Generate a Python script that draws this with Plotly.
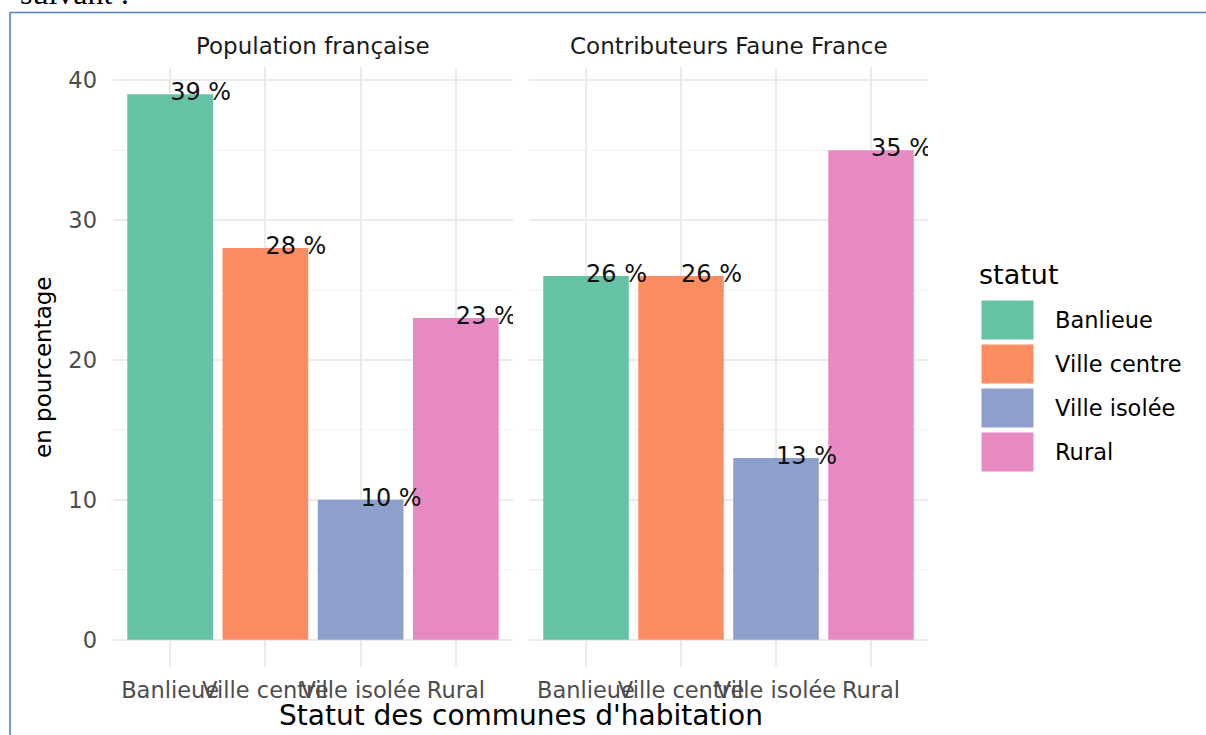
import plotly.graph_objects as go

categories = ["Banlieue", "Ville centre", "Ville isolée", "Rural"]
panels = ["Population française", "Contributeurs Faune France"]
pop_fr = [39, 28, 10, 23]
contrib_ff = [26, 26, 13, 35]
colors = ["#66C2A5", "#FC8D62", "#8DA0CB", "#E78AC3"]
y_ticks = [0, 10, 20, 30, 40]

W, H = 1206, 735
L, R, T, B = 113, 278, 67, 68
PW, PH = W - L - R, H - T - B


def px(x):
    return (x - L) / PW


def py(y):
    return (H - B - y) / PH


FONT = "DejaVu Sans"
fig = go.Figure()

series = [pop_fr, contrib_ff]
axes = [("x", "y"), ("x2", "y2")]
for vals, (xa, ya) in zip(series, axes):
    fig.add_trace(go.Bar(
        x=categories, y=vals, width=0.9,
        marker=dict(color=colors, line=dict(width=0)),
        xaxis=xa, yaxis=ya, showlegend=False, hoverinfo="skip",
    ))
    fig.add_trace(go.Scatter(
        x=categories, y=vals, mode="text",
        text=[f"{v} %" for v in vals], textposition="middle right",
        textfont=dict(family=FONT, size=24, color="#111111"),
        cliponaxis=True, xaxis=xa, yaxis=ya, showlegend=False, hoverinfo="skip",
    ))

xcommon = dict(
    type="category", range=[-0.6, 3.6], showgrid=True, gridcolor="#EBEBEB", gridwidth=1.6,
    zeroline=False, showline=False, ticks="", ticklabelstandoff=7, tickangle=0,
    automargin=False,
    tickfont=dict(family=FONT, size=22.5, color="#4D4D4D"),
)
ycommon = dict(
    range=[-1.95, 40.95], tickvals=y_ticks, showgrid=True, gridcolor="#EBEBEB", gridwidth=1.6,
    zeroline=False, showline=False, ticks="", automargin=False,
    minor=dict(tickvals=[5, 15, 25, 35], showgrid=True, gridcolor="#F3F3F3", gridwidth=1),
    tickfont=dict(family=FONT, size=22.5, color="#4D4D4D"),
)

d1 = [0, px(513)]
d2 = [px(529), 1]
fig.update_layout(
    xaxis=dict(domain=d1, anchor="y", **xcommon),
    xaxis2=dict(domain=d2, anchor="y2", **xcommon),
    yaxis=dict(domain=[0, 1], anchor="x", ticklabelstandoff=15, **ycommon),
    yaxis2=dict(domain=[0, 1], anchor="x2", showticklabels=False, matches="y", **ycommon),
)

annotations = []
for name, dom in zip(panels, [d1, d2]):
    annotations.append(dict(
        x=(dom[0] + dom[1]) / 2, y=py(46), xref="paper", yref="paper",
        text=name, showarrow=False, xanchor="center", yanchor="middle",
        font=dict(family=FONT, size=23, color="#1A1A1A"),
    ))
annotations.append(dict(
    x=px(521), y=py(716), xref="paper", yref="paper", text="Statut des communes d'habitation",
    showarrow=False, xanchor="center", yanchor="middle",
    font=dict(family=FONT, size=28, color="#000000"),
))
annotations.append(dict(
    x=px(43), y=py(368), xref="paper", yref="paper", text="en pourcentage", textangle=-90,
    showarrow=False, xanchor="center", yanchor="middle",
    font=dict(family=FONT, size=23, color="#000000"),
))
# legend (drawn manually to mimic ggplot keys)
annotations.append(dict(
    x=px(977), y=py(274), xref="paper", yref="paper", text="statut",
    showarrow=False, xanchor="left", yanchor="middle",
    font=dict(family=FONT, size=27, color="#000000"),
))
shapes = []
for i, (cat, col) in enumerate(zip(categories, colors)):
    top = 300 + 44 * i
    shapes.append(dict(
        type="rect", xref="paper", yref="paper",
        x0=px(981), x1=px(1034), y0=py(top), y1=py(top + 40),
        fillcolor=col, line=dict(width=1, color="#FFFFFF"),
    ))
    annotations.append(dict(
        x=px(1053), y=py(top + 20), xref="paper", yref="paper", text=cat,
        showarrow=False, xanchor="left", yanchor="middle",
        font=dict(family=FONT, size=22.5, color="#000000"),
    ))
# document context: cut-off text and blue frame
annotations.append(dict(
    x=px(18), y=py(-7), xref="paper", yref="paper", text="suivant :",
    showarrow=False, xanchor="left", yanchor="middle",
    font=dict(family="Liberation Serif", size=32, color="#000000"),
))
shapes.append(dict(type="line", xref="paper", yref="paper", x0=px(10), x1=px(1210),
                   y0=py(12.5), y1=py(12.5), line=dict(color="#4F81BD", width=1.6)))
shapes.append(dict(type="line", xref="paper", yref="paper", x0=px(10), x1=px(10),
                   y0=py(12.5), y1=py(740), line=dict(color="#4F81BD", width=1.6)))

fig.update_layout(
    width=W, height=H, margin=dict(l=L, r=R, t=T, b=B, autoexpand=False),
    paper_bgcolor="white", plot_bgcolor="white",
    annotations=annotations, shapes=shapes, showlegend=False, bargap=0.1,
)
fig.write_html(
    "out.html",
    config={"displayModeBar": False},
    post_script="document.body.style.margin='0';document.body.style.overflow='hidden';",
)
